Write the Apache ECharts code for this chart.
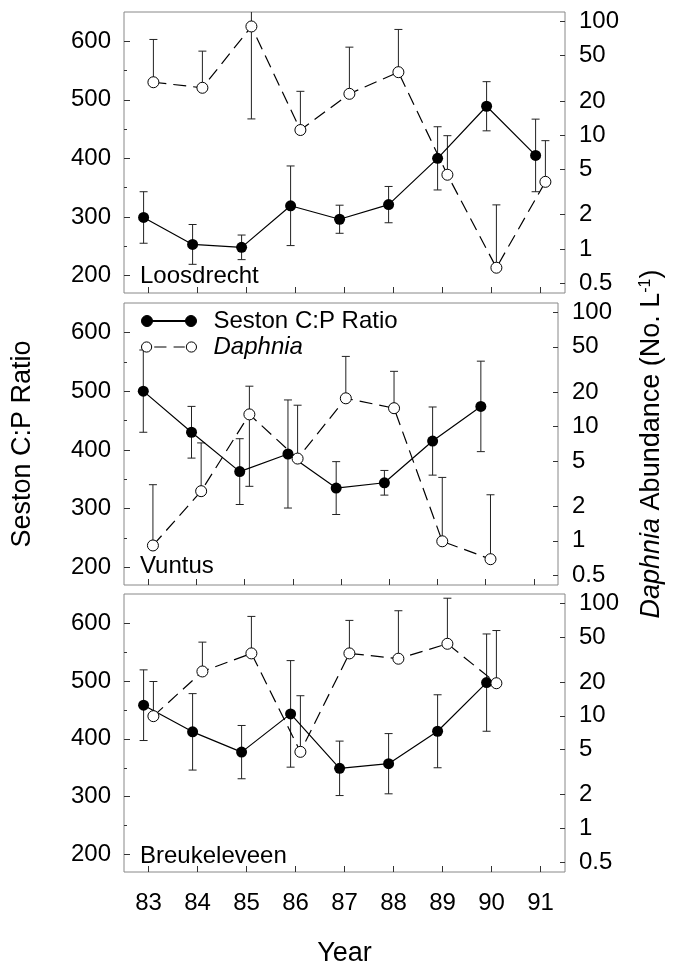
<!DOCTYPE html>
<html><head><meta charset="utf-8">
<script src="https://cdn.jsdelivr.net/npm/echarts@6/dist/echarts.min.js"></script>
<style>html,body{margin:0;padding:0;background:#fff}#c{width:673px;height:968px}</style>
</head><body><div id="c"></div>
<script>
// ---------- data ----------
const years = [83, 84, 85, 86, 87, 88, 89, 90, 91];
const lakeNames = ['Loosdrecht', 'Vuntus', 'Breukeleveen'];

const loosSeston    = [299, 253, 248, 319, 296, 321, 400, 489, 405];
const loosSestonErr = [44, 34, 21, 68, 24, 31, 54, 42, 62];
const loosDaphnia      = [29.2, 26.1, 90.3, 11.1, 23.1, 35.8, 4.49, 0.684, 3.89];
const loosDaphniaUpper = [69.4, 54.8, 170, 24.3, 59.4, 85, 9.9, 2.44, 8.95];
const loosDaphniaLower = [null, null, 13.9, null, null, null, null, null, null];

const vuntSeston    = [500, 430, 363, 393, 335, 344, 415, 474];
const vuntSestonErr = [70, 44, 56, 92, 45, 21, 58, 77];
const vuntDaphnia      = [0.91, 2.72, 12.8, 5.25, 17.7, 14.5, 0.99, 0.69];
const vuntDaphniaUpper = [3.1, 7.2, 22.6, 15.4, 41.2, 30.5, 3.59, 2.53];
const vuntDaphniaLower = [null, null, 3.0, null, null, null, null, null];

const breuSeston    = [458, 412, 377, 443, 349, 357, 413, 497];
const breuSestonErr = [61, 66, 46, 92, 47, 52, 63, 84];
const breuDaphnia      = [9.94, 24.8, 35.9, 4.79, 35.9, 32.2, 43.7, 19.5];
const breuDaphniaUpper = [20.2, 45.2, 76.5, 15.1, 70.5, 85.9, 111, 57.3];
const breuDaphniaLower = [null, null, null, null, null, null, null, null];

const xTicks = [83, 84, 85, 86, 87, 88, 89, 90, 91];
const leftTicks = [200, 300, 400, 500, 600];
const leftMinorTicks = [250, 350, 450, 550];
const rightTicks = [0.5, 1, 2, 5, 10, 20, 50, 100];

// ---------- layout / style ----------
const FONT = 'Liberation Sans';
const sestonShift = -0.1, daphniaShift = 0.1;
const gridTops = [12, 303, 594];
const gridHeights = [281, 282, 283];

const panels = [
  {seston: loosSeston, sErr: loosSestonErr, daph: loosDaphnia, dUp: loosDaphniaUpper, dLo: loosDaphniaLower},
  {seston: vuntSeston, sErr: vuntSestonErr, daph: vuntDaphnia, dUp: vuntDaphniaUpper, dLo: vuntDaphniaLower},
  {seston: breuSeston, sErr: breuSestonErr, daph: breuDaphnia, dUp: breuDaphniaUpper, dLo: breuDaphniaLower}
];

function errRender(params, api) {
  const cs = params.coordSys;
  const x = api.value(0), cv = api.value(1), lo = api.value(2), hi = api.value(3);
  const c = api.coord([x, cv]);
  const kids = [];
  const st = {stroke: '#222', lineWidth: 1};
  function seg(v) {
    const p = api.coord([x, v]);
    const y = Math.max(cs.y, Math.min(cs.y + cs.height, p[1]));
    kids.push({type: 'line', shape: {x1: c[0], y1: c[1], x2: c[0], y2: y}, style: st});
    if (Math.abs(y - p[1]) < 0.01) {
      kids.push({type: 'line', shape: {x1: c[0] - 4, y1: y, x2: c[0] + 4, y2: y}, style: st});
    }
  }
  if (!isNaN(hi)) seg(hi);
  if (!isNaN(lo) && lo > 0) seg(lo);
  return {type: 'group', children: kids};
}

const grid = [], xAxis = [], yAxis = [], series = [], title = [];
panels.forEach((P, p) => {
  grid.push({left: 124, width: 441, top: gridTops[p], height: gridHeights[p], show: true,
    borderColor: '#888', borderWidth: 1, backgroundColor: 'transparent'});
  xAxis.push({type: 'value', gridIndex: p, min: 82.5, max: 91.5,
    axisLine: {show: false}, splitLine: {show: false},
    axisTick: {inside: true, length: 6, customValues: xTicks, lineStyle: {color: '#333'}},
    axisLabel: {show: p === 2, customValues: xTicks, fontSize: 24, margin: 19, color: '#000', fontFamily: FONT},
    name: p === 2 ? 'Year' : '', nameLocation: 'middle', nameGap: 68,
    nameTextStyle: {fontSize: 27, color: '#000', fontFamily: FONT}});
  yAxis.push({type: 'value', gridIndex: p, min: 170, max: 650, position: 'left',
    axisLine: {show: false}, splitLine: {show: false},
    axisTick: {inside: true, length: 6, customValues: leftTicks, lineStyle: {color: '#333'}},
    axisLabel: {customValues: leftTicks, fontSize: 24, margin: 13, color: '#000', fontFamily: FONT},
    name: p === 1 ? 'Seston C:P Ratio' : '', nameLocation: 'middle', nameGap: 88,
    nameTextStyle: {fontSize: 27, color: '#000', fontFamily: FONT}});
  yAxis.push({type: 'value', gridIndex: p, min: 170, max: 650, position: 'left',
    axisLine: {show: false}, splitLine: {show: false},
    axisTick: {inside: true, length: 3, customValues: leftMinorTicks, lineStyle: {color: '#333'}},
    axisLabel: {show: false}});
  yAxis.push({type: 'log', logBase: 10, gridIndex: p, min: 0.41, max: 121, position: 'right',
    axisLine: {show: false}, splitLine: {show: false}, minorTick: {show: false},
    axisTick: {inside: true, length: 5, customValues: rightTicks, lineStyle: {color: '#333'}},
    axisLabel: {customValues: rightTicks, fontSize: 24, margin: 14, color: '#000', fontFamily: FONT,
      formatter: v => String(parseFloat(Number(v).toPrecision(3)))},
    name: p === 1 ? '{i|Daphnia} Abundance (No. L{s|-1})' : '', nameLocation: 'middle', nameGap: 80,
    nameTextStyle: {fontSize: 27, color: '#000', fontFamily: FONT,
      rich: {i: {fontStyle: 'italic', fontSize: 27, fontFamily: FONT, color: '#000'},
             s: {fontSize: 16, fontFamily: FONT, color: '#000', verticalAlign: 'top'}}}});

  const yl = p * 3, yr = p * 3 + 2;
  const sData = P.seston.map((v, i) => [years[i] + sestonShift, v]);
  const dData = P.daph.map((v, i) => [years[i] + daphniaShift, v]);
  const sErrData = P.seston.map((v, i) => [years[i] + sestonShift, v, v - P.sErr[i], v + P.sErr[i]]);
  const dErrData = P.daph.map((v, i) => [years[i] + daphniaShift, v,
    P.dLo[i] == null ? '-' : P.dLo[i], P.dUp[i] == null ? '-' : P.dUp[i]]);

  series.push({type: 'custom', xAxisIndex: p, yAxisIndex: yl, renderItem: errRender, data: sErrData,
    encode: {x: 0, y: 1}, z: 1, silent: true, clip: false});
  series.push({type: 'custom', xAxisIndex: p, yAxisIndex: yr, renderItem: errRender, data: dErrData,
    encode: {x: 0, y: 1}, z: 1, silent: true, clip: false});
  series.push({name: 'Seston C:P Ratio', type: 'line', xAxisIndex: p, yAxisIndex: yl, data: sData,
    symbol: 'circle', symbolSize: 11, z: 2, animation: false,
    itemStyle: {color: '#000', borderColor: '#000', borderWidth: 0},
    lineStyle: {color: '#000', width: 1.2}});
  series.push({name: 'Daphnia', type: 'line', xAxisIndex: p, yAxisIndex: yr, data: dData,
    symbol: 'circle', symbolSize: 11, z: 3, animation: false,
    itemStyle: {color: '#fff', borderColor: '#000', borderWidth: 1},
    lineStyle: {color: '#000', width: 1.2, type: [13, 7]}});
});

const lakeTops = [264, 554, 844];
lakeNames.forEach((n, i) => title.push({text: n, left: 140, top: lakeTops[i], padding: 0,
  textStyle: {fontSize: 24, fontWeight: 'normal', color: '#000', fontFamily: FONT}}));

const filledIcon = 'path://M0,5.5A5.5,5.5,0,1,1,11,5.5A5.5,5.5,0,1,1,0,5.5Z M11,5L44,5L44,6L11,6Z M44,5.5A5.5,5.5,0,1,1,55,5.5A5.5,5.5,0,1,1,44,5.5Z';
const openIcon = 'path://M0.5,5.5A5,5,0,1,1,10.5,5.5A5,5,0,1,1,0.5,5.5Z M13,5.5L25,5.5 M32,5.5L43,5.5 M44.5,5.5A5,5,0,1,1,54.5,5.5A5,5,0,1,1,44.5,5.5Z';

const chart = echarts.init(document.getElementById('c'), null, {renderer: 'canvas'});
chart.setOption({
  animation: false,
  backgroundColor: '#fff',
  textStyle: {fontFamily: FONT, color: '#000'},
  title: title,
  legend: {left: 141, top: 309, orient: 'vertical', padding: 0, itemGap: 2,
    itemWidth: 55, itemHeight: 11, selectedMode: false,
    textStyle: {fontSize: 24, color: '#000', fontFamily: FONT, padding: [0, 0, 0, 12]},
    data: [
      {name: 'Seston C:P Ratio', icon: filledIcon, itemStyle: {color: '#000', borderColor: '#000', borderWidth: 1}},
      {name: 'Daphnia', icon: openIcon, itemStyle: {color: '#fff', borderColor: '#000', borderWidth: 1},
        textStyle: {fontStyle: 'italic', fontSize: 24, color: '#000', fontFamily: FONT}}
    ]},
  grid: grid, xAxis: xAxis, yAxis: yAxis, series: series
});
</script></body></html>
